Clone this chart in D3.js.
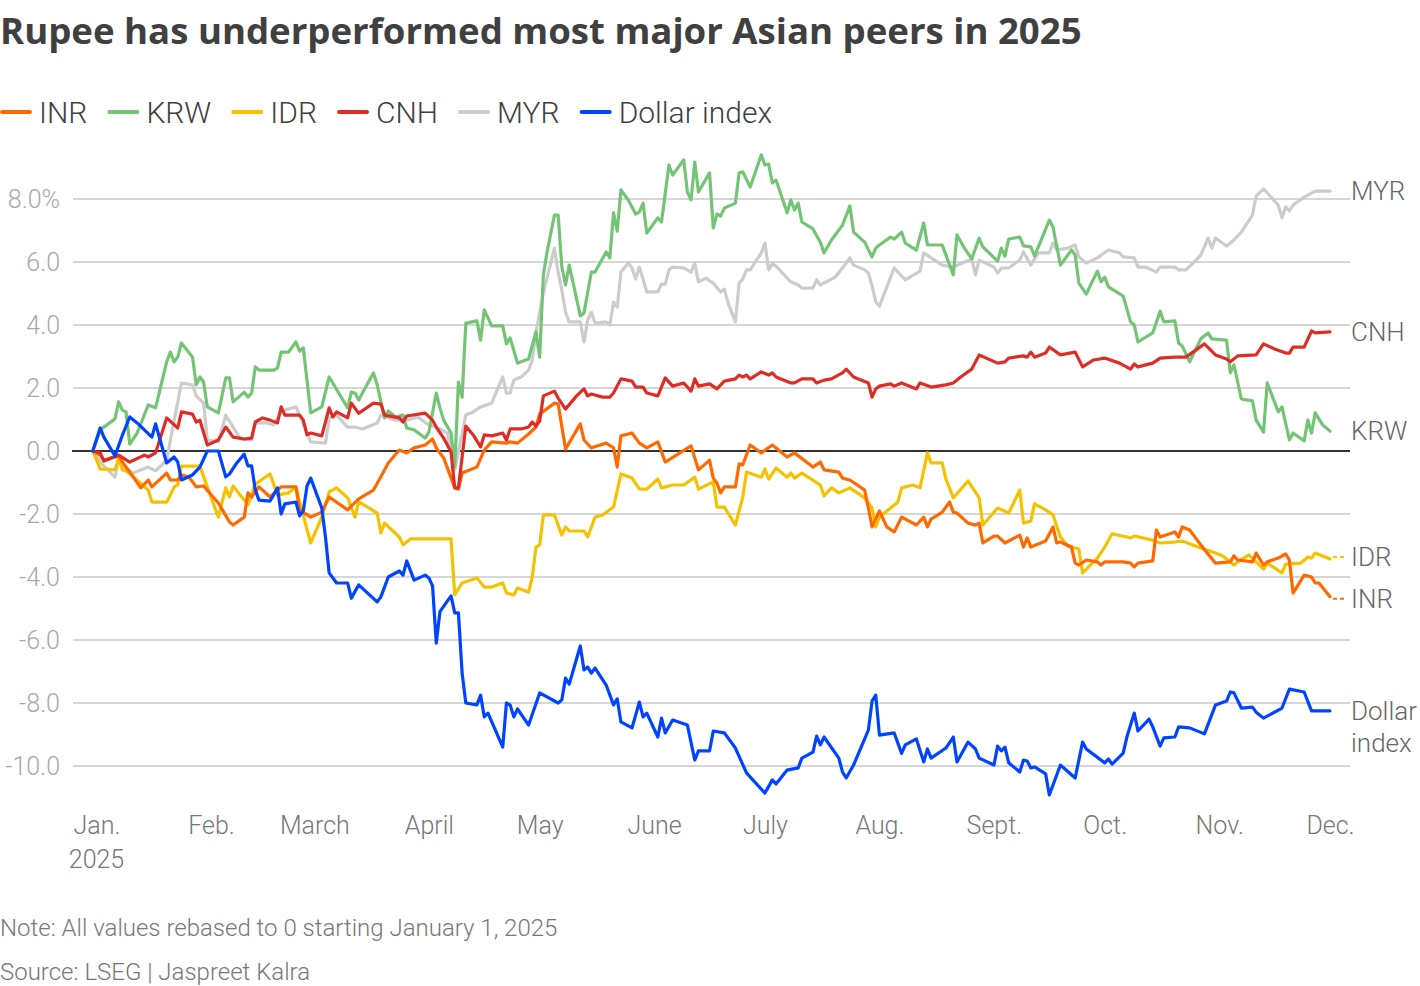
<!DOCTYPE html>
<html>
<head>
<meta charset="utf-8">
<script src="https://cdn.jsdelivr.net/npm/d3@7"></script>
<style>
  body { margin: 0; background: #fff; }
  svg text { font-family: Roboto, "Noto Sans", sans-serif; }
</style>
</head>
<body>
<div id="viz"></div>
<script>
// data: % change since Jan 1 2025
var inr = [["2024-12-31",0],["2025-01-02",-0.13],["2025-01-03",-0.29],["2025-01-07",-0.16],["2025-01-08",-0.35],["2025-01-10",-0.67],["2025-01-13",-1.17],["2025-01-15",-0.92],["2025-01-16",-1.14],["2025-01-20",-0.7],["2025-01-21",-0.92],["2025-01-23",-0.92],["2025-01-24",-0.76],["2025-01-26",-0.82],["2025-01-28",-1.14],["2025-01-30",-1.11],["2025-02-03",-1.65],["2025-02-06",-2.25],["2025-02-07",-2.35],["2025-02-10",-2.1],["2025-02-11",-1.33],["2025-02-12",-1.46],["2025-02-14",-1.14],["2025-02-17",-1.46],["2025-02-20",-1.14],["2025-02-24",-1.14],["2025-02-25",-1.87],["2025-02-28",-2.1],["2025-03-03",-1.94],["2025-03-05",-1.46],["2025-03-10",-1.87],["2025-03-13",-1.52],["2025-03-17",-1.24],["2025-03-19",-0.82],["2025-03-21",-0.38],["2025-03-24",0.03],["2025-03-26",-0.06],["2025-03-28",0.1],["2025-03-31",0.19],["2025-04-02",0.38],["2025-04-03",0.1],["2025-04-05",-0.22],["2025-04-08",-1.17],["2025-04-09",-1.21],["2025-04-10",-0.7],["2025-04-14",-0.51],["2025-04-16",0.03],["2025-04-18",0.29],["2025-04-22",0.25],["2025-04-23",0.29],["2025-04-25",0.25],["2025-04-28",0.54],["2025-04-30",0.76],["2025-05-01",1.17],["2025-05-05",1.52],["2025-05-06",1.49],["2025-05-08",0.06],["2025-05-12",0.86],["2025-05-13",0.35],["2025-05-15",0.1],["2025-05-19",0.25],["2025-05-21",0.1],["2025-05-22",-0.51],["2025-05-23",0.48],["2025-05-26",0.57],["2025-05-28",0.25],["2025-05-30",0.1],["2025-06-02",0.29],["2025-06-04",-0.35],["2025-06-11",0.16],["2025-06-13",-0.6],["2025-06-16",-0.29],["2025-06-17",-0.86],["2025-06-18",-1.02],["2025-06-19",-1.33],["2025-06-20",-1.14],["2025-06-23",-1.14],["2025-06-24",-0.41],["2025-06-25",-0.44],["2025-06-27",0.19],["2025-06-30",-0.06],["2025-07-03",0.19],["2025-07-07",-0.19],["2025-07-09",-0.06],["2025-07-14",-0.51],["2025-07-16",-0.35],["2025-07-17",-0.6],["2025-07-21",-0.67],["2025-07-22",-0.86],["2025-07-24",-0.92],["2025-07-28",-1.24],["2025-07-29",-1.81],["2025-07-30",-2.41],["2025-08-01",-1.9],["2025-08-03",-2.41],["2025-08-05",-2.57],["2025-08-07",-2.1],["2025-08-11",-2.35],["2025-08-13",-2.1],["2025-08-14",-2.41],["2025-08-15",-2.16],["2025-08-18",-1.94],["2025-08-20",-1.62],["2025-08-21",-1.94],["2025-08-22",-1.97],["2025-08-25",-2.29],["2025-08-27",-2.35],["2025-08-28",-2.29],["2025-08-29",-2.92],["2025-09-01",-2.7],["2025-09-02",-2.7],["2025-09-04",-2.92],["2025-09-08",-2.67],["2025-09-09",-3.05],["2025-09-10",-2.76],["2025-09-11",-3.05],["2025-09-15",-2.86],["2025-09-17",-2.41],["2025-09-18",-2.92],["2025-09-19",-2.89],["2025-09-22",-3.05],["2025-09-23",-3.56],["2025-09-24",-3.62],["2025-09-26",-3.46],["2025-09-29",-3.52],["2025-09-30",-3.62],["2025-10-01",-3.52],["2025-10-06",-3.52],["2025-10-08",-3.56],["2025-10-09",-3.68],["2025-10-10",-3.56],["2025-10-14",-3.49],["2025-10-15",-2.51],["2025-10-16",-2.73],["2025-10-20",-2.57],["2025-10-21",-2.73],["2025-10-22",-2.41],["2025-10-24",-2.51],["2025-10-27",-2.98],["2025-10-31",-3.56],["2025-11-04",-3.52],["2025-11-05",-3.33],["2025-11-06",-3.46],["2025-11-10",-3.52],["2025-11-11",-3.24],["2025-11-13",-3.62],["2025-11-14",-3.52],["2025-11-17",-3.4],["2025-11-19",-3.27],["2025-11-20",-3.46],["2025-11-21",-4.51],["2025-11-24",-3.94],["2025-11-26",-4.0],["2025-11-27",-4.19],["2025-11-28",-4.19],["2025-12-01",-4.63]];

var krw = [["2024-12-31",0],["2025-01-02",0.67],["2025-01-06",1.02],["2025-01-07",1.56],["2025-01-08",1.3],["2025-01-09",1.24],["2025-01-10",0.22],["2025-01-12",0.57],["2025-01-15",1.46],["2025-01-17",1.37],["2025-01-20",2.83],["2025-01-21",3.14],["2025-01-22",2.83],["2025-01-23",2.98],["2025-01-24",3.43],["2025-01-27",2.98],["2025-01-28",2.1],["2025-01-29",2.35],["2025-01-30",2.19],["2025-01-31",1.4],["2025-02-03",1.21],["2025-02-05",2.32],["2025-02-06",2.32],["2025-02-07",1.56],["2025-02-10",1.87],["2025-02-11",1.71],["2025-02-12",1.84],["2025-02-13",2.67],["2025-02-14",2.57],["2025-02-18",2.57],["2025-02-19",2.63],["2025-02-20",3.14],["2025-02-22",3.14],["2025-02-24",3.46],["2025-02-25",3.17],["2025-02-26",3.27],["2025-02-28",1.21],["2025-03-03",1.4],["2025-03-05",2.35],["2025-03-10",1.37],["2025-03-11",1.87],["2025-03-12",1.84],["2025-03-13",1.62],["2025-03-14",1.84],["2025-03-17",2.48],["2025-03-18",2.1],["2025-03-20",1.05],["2025-03-21",1.27],["2025-03-23",1.08],["2025-03-25",1.14],["2025-03-26",0.73],["2025-03-28",0.67],["2025-03-31",0.41],["2025-04-01",0.6],["2025-04-03",1.84],["2025-04-04",1.37],["2025-04-05",0.98],["2025-04-07",0.57],["2025-04-08",-0.5],["2025-04-09",2.19],["2025-04-10",1.71],["2025-04-11",4.06],["2025-04-14",4.13],["2025-04-15",3.52],["2025-04-16",4.48],["2025-04-18",3.97],["2025-04-21",3.97],["2025-04-22",3.4],["2025-04-23",3.59],["2025-04-25",2.79],["2025-04-28",2.92],["2025-04-30",3.78],["2025-05-01",2.98],["2025-05-02",5.59],["2025-05-03",6.32],["2025-05-05",7.49],["2025-05-06",7.49],["2025-05-07",5.84],["2025-05-08",5.27],["2025-05-09",5.9],["2025-05-12",4.29],["2025-05-13",4.38],["2025-05-15",5.68],["2025-05-16",5.68],["2025-05-19",6.32],["2025-05-20",6.13],["2025-05-21",7.56],["2025-05-22",6.98],["2025-05-23",8.29],["2025-05-25",7.97],["2025-05-27",7.52],["2025-05-28",7.59],["2025-05-29",7.87],["2025-05-30",6.92],["2025-06-02",7.4],["2025-06-03",7.27],["2025-06-05",9.08],["2025-06-06",8.76],["2025-06-09",9.24],["2025-06-10",8.22],["2025-06-11",7.97],["2025-06-12",9.17],["2025-06-13",8.22],["2025-06-16",8.83],["2025-06-17",7.08],["2025-06-18",7.52],["2025-06-19",7.46],["2025-06-20",7.71],["2025-06-23",7.87],["2025-06-24",8.83],["2025-06-25",8.86],["2025-06-27",8.38],["2025-06-30",9.4],["2025-07-01",9.08],["2025-07-02",9.11],["2025-07-03",8.51],["2025-07-04",8.6],["2025-07-07",7.56],["2025-07-08",7.97],["2025-07-09",7.65],["2025-07-10",7.87],["2025-07-11",7.27],["2025-07-14",7.05],["2025-07-16",6.63],["2025-07-17",6.29],["2025-07-19",6.7],["2025-07-22",7.17],["2025-07-24",7.78],["2025-07-25",6.95],["2025-07-28",6.63],["2025-07-30",6.16],["2025-07-31",6.44],["2025-08-01",6.54],["2025-08-04",6.79],["2025-08-05",6.73],["2025-08-07",6.95],["2025-08-08",6.6],["2025-08-11",6.38],["2025-08-13",7.24],["2025-08-14",6.54],["2025-08-18",6.54],["2025-08-21",5.59],["2025-08-22",6.86],["2025-08-24",6.44],["2025-08-26",6.1],["2025-08-28",6.76],["2025-08-29",6.48],["2025-09-02",6.03],["2025-09-03",6.44],["2025-09-04",6.19],["2025-09-05",6.73],["2025-09-08",6.79],["2025-09-09",6.51],["2025-09-11",6.48],["2025-09-12",6.19],["2025-09-16",7.33],["2025-09-17",7.11],["2025-09-19",5.9],["2025-09-22",6.38],["2025-09-23",6.22],["2025-09-24",5.33],["2025-09-26",4.98],["2025-09-29",5.71],["2025-09-30",5.37],["2025-10-01",5.52],["2025-10-02",5.21],["2025-10-06",4.92],["2025-10-08",4.1],["2025-10-09",4.0],["2025-10-10",3.46],["2025-10-14",3.75],["2025-10-16",4.44],["2025-10-17",4.1],["2025-10-20",4.13],["2025-10-21",3.43],["2025-10-22",3.33],["2025-10-24",2.83],["2025-10-27",3.56],["2025-10-29",3.75],["2025-10-30",3.56],["2025-11-03",3.52],["2025-11-04",2.48],["2025-11-05",2.73],["2025-11-07",1.65],["2025-11-10",1.59],["2025-11-11",0.98],["2025-11-13",0.6],["2025-11-14",2.16],["2025-11-17",1.24],["2025-11-18",1.4],["2025-11-20",0.35],["2025-11-21",0.57],["2025-11-24",0.32],["2025-11-25",0.98],["2025-11-26",0.57],["2025-11-27",1.21],["2025-11-29",0.83],["2025-12-01",0.63]];

var idr = [["2024-12-31",0],["2025-01-02",-0.57],["2025-01-06",-0.6],["2025-01-07",-0.22],["2025-01-08",-0.6],["2025-01-09",-0.63],["2025-01-11",-0.82],["2025-01-15",-1.24],["2025-01-16",-1.62],["2025-01-20",-1.62],["2025-01-21",-1.4],["2025-01-22",-1.14],["2025-01-23",-1.08],["2025-01-24",-0.48],["2025-01-29",-0.48],["2025-01-31",-1.14],["2025-02-03",-2.1],["2025-02-05",-1.17],["2025-02-06",-1.46],["2025-02-07",-1.11],["2025-02-11",-1.71],["2025-02-13",-1.05],["2025-02-17",-0.73],["2025-02-19",-1.4],["2025-02-22",-1.33],["2025-02-24",-1.14],["2025-02-25",-1.62],["2025-02-28",-2.92],["2025-03-03",-2.1],["2025-03-05",-1.3],["2025-03-07",-1.17],["2025-03-10",-1.49],["2025-03-12",-2.1],["2025-03-13",-1.62],["2025-03-14",-1.68],["2025-03-18",-1.97],["2025-03-19",-2.6],["2025-03-20",-2.29],["2025-03-24",-2.73],["2025-03-25",-2.98],["2025-03-27",-2.79],["2025-04-07",-2.79],["2025-04-08",-4.57],["2025-04-10",-4.19],["2025-04-14",-4.03],["2025-04-16",-4.32],["2025-04-18",-4.32],["2025-04-21",-4.19],["2025-04-22",-4.51],["2025-04-24",-4.57],["2025-04-25",-4.35],["2025-04-28",-4.48],["2025-04-29",-4.0],["2025-04-30",-3.05],["2025-05-01",-2.98],["2025-05-02",-2.03],["2025-05-05",-2.03],["2025-05-07",-2.67],["2025-05-08",-2.41],["2025-05-09",-2.54],["2025-05-13",-2.54],["2025-05-14",-2.73],["2025-05-16",-2.1],["2025-05-18",-2.03],["2025-05-21",-1.78],["2025-05-23",-0.73],["2025-05-26",-0.86],["2025-05-28",-1.21],["2025-05-30",-1.21],["2025-06-02",-0.89],["2025-06-03",-1.17],["2025-06-06",-1.08],["2025-06-09",-1.08],["2025-06-12",-0.83],["2025-06-13",-1.21],["2025-06-17",-0.98],["2025-06-18",-1.78],["2025-06-20",-1.78],["2025-06-23",-2.35],["2025-06-25",-1.46],["2025-06-26",-0.67],["2025-06-30",-0.83],["2025-07-01",-0.57],["2025-07-02",-0.89],["2025-07-04",-0.54],["2025-07-07",-0.83],["2025-07-08",-0.7],["2025-07-09",-0.86],["2025-07-11",-0.7],["2025-07-16",-1.08],["2025-07-17",-1.43],["2025-07-19",-1.17],["2025-07-21",-1.33],["2025-07-24",-1.17],["2025-07-28",-1.49],["2025-07-30",-1.81],["2025-07-31",-2.41],["2025-08-01",-2.1],["2025-08-04",-1.81],["2025-08-06",-1.62],["2025-08-07",-1.17],["2025-08-10",-1.08],["2025-08-12",-1.17],["2025-08-14",-0.06],["2025-08-15",-0.38],["2025-08-18",-0.38],["2025-08-19",-0.89],["2025-08-21",-1.49],["2025-08-25",-0.95],["2025-08-28",-1.49],["2025-08-29",-2.35],["2025-09-02",-1.81],["2025-09-05",-1.97],["2025-09-08",-1.24],["2025-09-09",-2.29],["2025-09-11",-2.22],["2025-09-12",-1.68],["2025-09-15",-1.87],["2025-09-17",-2.03],["2025-09-19",-2.73],["2025-09-21",-3.02],["2025-09-24",-3.11],["2025-09-25",-3.87],["2025-09-29",-3.4],["2025-10-01",-3.05],["2025-10-03",-2.63],["2025-10-07",-2.73],["2025-10-08",-2.76],["2025-10-09",-2.7],["2025-10-14",-2.83],["2025-10-16",-2.92],["2025-10-20",-2.89],["2025-10-22",-2.86],["2025-10-27",-3.08],["2025-10-31",-3.24],["2025-11-02",-3.33],["2025-11-05",-3.62],["2025-11-06",-3.52],["2025-11-09",-3.3],["2025-11-11",-3.52],["2025-11-13",-3.75],["2025-11-14",-3.56],["2025-11-18",-3.87],["2025-11-19",-3.59],["2025-11-23",-3.56],["2025-11-25",-3.37],["2025-11-26",-3.4],["2025-11-27",-3.24],["2025-12-01",-3.43]];

var cnh = [["2024-12-31",0],["2025-01-02",-0.06],["2025-01-03",-0.32],["2025-01-07",-0.13],["2025-01-10",-0.35],["2025-01-14",-0.13],["2025-01-15",-0.19],["2025-01-17",-0.06],["2025-01-20",1.05],["2025-01-23",0.73],["2025-01-24",1.24],["2025-01-27",1.17],["2025-01-28",0.92],["2025-01-29",0.98],["2025-01-31",0.19],["2025-02-03",0.35],["2025-02-05",0.76],["2025-02-07",0.44],["2025-02-10",0.38],["2025-02-12",0.41],["2025-02-13",0.92],["2025-02-15",1.05],["2025-02-17",0.98],["2025-02-19",0.89],["2025-02-20",1.4],["2025-02-21",1.14],["2025-02-25",1.14],["2025-02-26",0.98],["2025-02-27",0.51],["2025-02-28",0.57],["2025-03-03",0.48],["2025-03-05",1.37],["2025-03-06",1.08],["2025-03-07",1.24],["2025-03-10",1.05],["2025-03-11",1.52],["2025-03-13",1.2],["2025-03-17",1.52],["2025-03-19",1.49],["2025-03-20",1.14],["2025-03-24",1.05],["2025-03-25",0.92],["2025-03-26",1.11],["2025-03-31",1.2],["2025-04-02",0.98],["2025-04-03",0.76],["2025-04-05",0.41],["2025-04-07",-0.03],["2025-04-08",-1.17],["2025-04-09",-1.17],["2025-04-11",0.79],["2025-04-13",0.51],["2025-04-15",0.13],["2025-04-16",0.51],["2025-04-18",0.48],["2025-04-21",0.57],["2025-04-22",0.35],["2025-04-23",0.7],["2025-04-26",0.7],["2025-04-28",0.76],["2025-04-29",0.92],["2025-04-30",0.79],["2025-05-01",0.95],["2025-05-02",1.75],["2025-05-05",1.9],["2025-05-06",1.68],["2025-05-08",1.33],["2025-05-11",1.75],["2025-05-13",1.97],["2025-05-14",1.75],["2025-05-15",1.81],["2025-05-18",1.71],["2025-05-20",1.71],["2025-05-21",1.84],["2025-05-23",2.29],["2025-05-26",2.22],["2025-05-27",2.03],["2025-05-29",2.03],["2025-05-30",1.84],["2025-06-02",1.75],["2025-06-04",2.32],["2025-06-06",2.06],["2025-06-09",2.16],["2025-06-11",1.9],["2025-06-12",2.29],["2025-06-13",2.06],["2025-06-16",2.13],["2025-06-18",1.97],["2025-06-20",2.22],["2025-06-23",2.29],["2025-06-24",2.41],["2025-06-25",2.35],["2025-06-26",2.41],["2025-06-27",2.29],["2025-06-30",2.51],["2025-07-02",2.41],["2025-07-03",2.48],["2025-07-04",2.35],["2025-07-08",2.16],["2025-07-09",2.16],["2025-07-11",2.29],["2025-07-14",2.29],["2025-07-15",2.16],["2025-07-17",2.25],["2025-07-19",2.29],["2025-07-22",2.48],["2025-07-23",2.6],["2025-07-25",2.35],["2025-07-29",2.16],["2025-07-30",1.71],["2025-07-31",1.97],["2025-08-01",2.06],["2025-08-04",2.13],["2025-08-05",2.06],["2025-08-07",2.16],["2025-08-11",1.97],["2025-08-12",2.16],["2025-08-15",2.03],["2025-08-19",2.1],["2025-08-21",2.16],["2025-08-23",2.35],["2025-08-26",2.6],["2025-08-28",3.05],["2025-09-02",2.79],["2025-09-04",2.83],["2025-09-05",2.95],["2025-09-09",3.02],["2025-09-10",2.98],["2025-09-11",3.14],["2025-09-12",2.98],["2025-09-15",3.11],["2025-09-16",3.3],["2025-09-19",3.05],["2025-09-23",3.14],["2025-09-25",2.67],["2025-09-28",2.89],["2025-10-01",2.95],["2025-10-05",2.79],["2025-10-08",2.6],["2025-10-09",2.76],["2025-10-10",2.67],["2025-10-14",2.79],["2025-10-16",2.95],["2025-10-20",2.98],["2025-10-23",2.98],["2025-10-28",3.4],["2025-10-31",3.05],["2025-11-03",2.92],["2025-11-04",2.83],["2025-11-06",3.02],["2025-11-11",3.05],["2025-11-13",3.4],["2025-11-16",3.24],["2025-11-19",3.11],["2025-11-20",3.11],["2025-11-21",3.3],["2025-11-24",3.3],["2025-11-26",3.81],["2025-11-27",3.75],["2025-12-01",3.78]];

var myr = [["2024-12-31",0],["2025-01-02",-0.35],["2025-01-04",-0.6],["2025-01-06",-0.83],["2025-01-07",-0.29],["2025-01-09",-0.54],["2025-01-11",-0.7],["2025-01-13",-0.6],["2025-01-15",-0.51],["2025-01-17",-0.63],["2025-01-20",-0.29],["2025-01-21",0.35],["2025-01-24",2.16],["2025-01-27",2.1],["2025-01-28",1.75],["2025-01-30",1.52],["2025-01-31",0.35],["2025-02-03",0.29],["2025-02-05",1.14],["2025-02-07",0.76],["2025-02-09",0.38],["2025-02-12",0.35],["2025-02-13",0.89],["2025-02-16",0.89],["2025-02-18",0.83],["2025-02-19",1.05],["2025-02-20",1.27],["2025-02-24",1.4],["2025-02-25",1.14],["2025-02-28",0.29],["2025-03-04",0.25],["2025-03-05",1.05],["2025-03-07",1.14],["2025-03-10",0.76],["2025-03-12",0.76],["2025-03-14",0.7],["2025-03-18",0.89],["2025-03-19",1.14],["2025-03-23",0.98],["2025-03-26",0.98],["2025-03-29",1.08],["2025-04-01",0.83],["2025-04-04",0.7],["2025-04-06",0.57],["2025-04-08",-0.6],["2025-04-11",1.14],["2025-04-13",1.24],["2025-04-15",1.4],["2025-04-18",1.52],["2025-04-21",2.35],["2025-04-22",1.84],["2025-04-23",1.84],["2025-04-24",2.25],["2025-04-26",2.35],["2025-04-28",2.57],["2025-04-29",2.89],["2025-04-30",3.78],["2025-05-02",5.02],["2025-05-05",6.44],["2025-05-06",5.68],["2025-05-07",5.11],["2025-05-08",4.41],["2025-05-09",4.1],["2025-05-12",4.1],["2025-05-13",3.46],["2025-05-14",4.16],["2025-05-15",4.41],["2025-05-16",4.06],["2025-05-19",4.1],["2025-05-20",4.0],["2025-05-21",4.73],["2025-05-22",4.57],["2025-05-23",5.68],["2025-05-25",5.97],["2025-05-26",5.81],["2025-05-27",5.46],["2025-05-28",5.84],["2025-05-30",5.05],["2025-06-02",5.05],["2025-06-03",5.3],["2025-06-04",5.3],["2025-06-05",5.75],["2025-06-06",5.84],["2025-06-09",5.81],["2025-06-10",5.75],["2025-06-11",5.68],["2025-06-12",5.97],["2025-06-13",5.37],["2025-06-15",5.49],["2025-06-17",5.33],["2025-06-19",5.05],["2025-06-20",5.14],["2025-06-21",4.7],["2025-06-23",4.1],["2025-06-24",5.33],["2025-06-25",5.46],["2025-06-26",5.75],["2025-06-27",5.75],["2025-06-30",6.29],["2025-07-01",6.6],["2025-07-02",5.75],["2025-07-03",5.94],["2025-07-04",5.87],["2025-07-08",5.37],["2025-07-10",5.27],["2025-07-11",5.17],["2025-07-14",5.17],["2025-07-15",5.43],["2025-07-16",5.27],["2025-07-20",5.52],["2025-07-22",5.81],["2025-07-24",6.13],["2025-07-25",5.9],["2025-07-28",5.75],["2025-07-29",5.65],["2025-07-30",5.24],["2025-07-31",4.73],["2025-08-01",4.6],["2025-08-03",5.21],["2025-08-05",5.81],["2025-08-08",5.43],["2025-08-12",5.71],["2025-08-13",6.29],["2025-08-15",6.13],["2025-08-18",5.9],["2025-08-21",5.84],["2025-08-26",6.1],["2025-08-27",5.59],["2025-08-28",6.06],["2025-09-01",5.84],["2025-09-02",5.65],["2025-09-03",5.81],["2025-09-05",5.81],["2025-09-08",6.06],["2025-09-09",6.32],["2025-09-11",5.9],["2025-09-13",6.29],["2025-09-16",6.29],["2025-09-17",6.6],["2025-09-18",6.38],["2025-09-21",6.44],["2025-09-23",6.54],["2025-09-24",6.16],["2025-09-26",5.97],["2025-09-29",6.13],["2025-10-02",6.38],["2025-10-05",6.29],["2025-10-06",6.16],["2025-10-09",6.13],["2025-10-10",5.84],["2025-10-12",5.84],["2025-10-15",5.68],["2025-10-16",5.84],["2025-10-20",5.84],["2025-10-21",5.75],["2025-10-23",5.75],["2025-10-25",5.97],["2025-10-27",6.22],["2025-10-29",6.76],["2025-10-30",6.44],["2025-10-31",6.76],["2025-11-03",6.51],["2025-11-05",6.7],["2025-11-07",6.95],["2025-11-10",7.49],["2025-11-11",8.1],["2025-11-13",8.32],["2025-11-14",8.19],["2025-11-17",7.81],["2025-11-18",7.4],["2025-11-19",7.75],["2025-11-20",7.62],["2025-11-21",7.81],["2025-11-24",8.06],["2025-11-27",8.25],["2025-12-01",8.25]];

var dollarIndex = [["2024-12-31",0],["2025-01-02",0.73],["2025-01-03",0.44],["2025-01-06",-0.16],["2025-01-08",0.5],["2025-01-10",1.08],["2025-01-12",0.89],["2025-01-16",0.44],["2025-01-17",0.86],["2025-01-20",-0.38],["2025-01-22",-0.19],["2025-01-23",-0.35],["2025-01-24",-0.92],["2025-01-27",-0.76],["2025-01-29",-0.51],["2025-01-31",0],["2025-02-03",0],["2025-02-05",-0.82],["2025-02-06",-0.73],["2025-02-08",-0.38],["2025-02-10",-0.1],["2025-02-11",-0.47],["2025-02-12",-0.47],["2025-02-13",-1.24],["2025-02-14",-1.56],["2025-02-17",-1.59],["2025-02-19",-1.17],["2025-02-20",-2.0],["2025-02-21",-1.68],["2025-02-24",-1.62],["2025-02-25",-2.06],["2025-02-26",-1.9],["2025-02-27",-1.11],["2025-02-28",-0.86],["2025-03-03",-1.81],["2025-03-04",-2.73],["2025-03-05",-3.87],["2025-03-07",-4.19],["2025-03-10",-4.19],["2025-03-11",-4.67],["2025-03-13",-4.25],["2025-03-18",-4.79],["2025-03-19",-4.63],["2025-03-21",-4.0],["2025-03-24",-3.81],["2025-03-25",-3.94],["2025-03-26",-3.49],["2025-03-28",-4.1],["2025-03-31",-3.94],["2025-04-01",-4.03],["2025-04-02",-4.29],["2025-04-03",-6.1],["2025-04-04",-5.1],["2025-04-07",-4.6],["2025-04-08",-5.14],["2025-04-09",-5.14],["2025-04-10",-7.05],["2025-04-11",-8.0],["2025-04-14",-8.06],["2025-04-15",-7.75],["2025-04-16",-8.44],["2025-04-17",-8.32],["2025-04-21",-9.4],["2025-04-22",-8.0],["2025-04-23",-8.06],["2025-04-24",-8.44],["2025-04-25",-8.19],["2025-04-28",-8.7],["2025-05-01",-7.68],["2025-05-06",-8.0],["2025-05-07",-7.9],["2025-05-08",-7.21],["2025-05-09",-7.4],["2025-05-12",-6.19],["2025-05-13",-6.95],["2025-05-14",-6.86],["2025-05-15",-7.05],["2025-05-16",-6.89],["2025-05-19",-7.43],["2025-05-21",-8.06],["2025-05-22",-7.87],["2025-05-23",-8.6],["2025-05-26",-8.79],["2025-05-28",-7.97],["2025-05-29",-8.44],["2025-05-30",-8.32],["2025-06-02",-9.08],["2025-06-03",-8.48],["2025-06-04",-8.95],["2025-06-06",-8.54],["2025-06-10",-8.7],["2025-06-12",-9.81],["2025-06-13",-9.52],["2025-06-16",-9.52],["2025-06-17",-8.89],["2025-06-20",-8.95],["2025-06-23",-9.43],["2025-06-26",-10.22],["2025-07-01",-10.86],["2025-07-03",-10.44],["2025-07-04",-10.57],["2025-07-07",-10.13],["2025-07-10",-10.06],["2025-07-11",-9.75],["2025-07-14",-9.56],["2025-07-15",-9.05],["2025-07-16",-9.33],["2025-07-17",-9.08],["2025-07-21",-9.75],["2025-07-22",-10.19],["2025-07-23",-10.38],["2025-07-25",-9.97],["2025-07-29",-8.86],["2025-07-30",-7.94],["2025-07-31",-7.75],["2025-08-01",-9.02],["2025-08-05",-8.95],["2025-08-07",-9.6],["2025-08-08",-9.33],["2025-08-11",-9.14],["2025-08-13",-9.87],["2025-08-14",-9.46],["2025-08-15",-9.75],["2025-08-19",-9.43],["2025-08-21",-9.08],["2025-08-22",-9.87],["2025-08-25",-9.24],["2025-08-27",-9.46],["2025-08-28",-9.75],["2025-09-01",-9.97],["2025-09-02",-9.37],["2025-09-03",-9.52],["2025-09-04",-9.4],["2025-09-05",-9.9],["2025-09-08",-10.19],["2025-09-09",-9.81],["2025-09-10",-9.84],["2025-09-11",-10.06],["2025-09-12",-10.03],["2025-09-15",-10.25],["2025-09-16",-10.92],["2025-09-19",-9.97],["2025-09-23",-10.38],["2025-09-25",-9.24],["2025-09-26",-9.46],["2025-10-01",-9.9],["2025-10-02",-9.78],["2025-10-03",-9.94],["2025-10-06",-9.59],["2025-10-07",-9.08],["2025-10-09",-8.32],["2025-10-10",-8.89],["2025-10-13",-8.51],["2025-10-14",-8.76],["2025-10-16",-9.37],["2025-10-17",-9.11],["2025-10-20",-9.08],["2025-10-21",-8.76],["2025-10-24",-8.79],["2025-10-28",-8.98],["2025-10-31",-8.06],["2025-11-03",-7.94],["2025-11-04",-7.65],["2025-11-05",-7.68],["2025-11-07",-8.16],["2025-11-10",-8.13],["2025-11-11",-8.29],["2025-11-13",-8.48],["2025-11-18",-8.16],["2025-11-20",-7.56],["2025-11-24",-7.65],["2025-11-26",-8.25],["2025-12-01",-8.25]];

var yTicks = [-10, -8, -6, -4, -2, 0, 2, 4, 6, 8];
var monthLabels = ["Jan.", "Feb.", "March", "April", "May", "June", "July", "Aug.", "Sept.", "Oct.", "Nov.", "Dec."];

// series settings (legend order)
var series = [
  { name: "INR", data: inr, color: "#ff6a00", labelDy: 2, leader: true },
  { name: "KRW", data: krw, color: "#74c476", labelDy: 0 },
  { name: "IDR", data: idr, color: "#f5c200", labelDy: -2, leader: true },
  { name: "CNH", data: cnh, color: "#de2d26", labelDy: 0 },
  { name: "MYR", data: myr, color: "#cccccc", labelDy: 0 },
  { name: "Dollar index", data: dollarIndex, color: "#0044ff", labelDy: 0 }
];
var drawOrder = ["MYR", "KRW", "IDR", "INR", "CNH", "Dollar index"];

var width = 1420;
var height = 986;
var parse = d3.timeParse("%Y-%m-%d");

series.forEach(function(s) {
  s.points = s.data.map(function(d) { return { date: parse(d[0]), value: d[1] }; });
});

var svg = d3.select('#viz').append('svg')
  .attr('width', width)
  .attr('height', height);

var x = d3.scaleTime()
  .domain([new Date(2025, 0, 1), new Date(2025, 11, 1)])
  .range([96.5, 1330]);

var y = d3.scaleLinear()
  .domain([-10, 8])
  .range([766, 199]);

// title
svg.append('text')
  .attr('x', 0)
  .attr('y', 44)
  .style('font-family', '"Open Sans", Roboto, sans-serif')
  .style('font-size', '36.6px')
  .style('font-weight', 700)
  .style('fill', '#404040')
  .text('Rupee has underperformed most major Asian peers in 2025');

// legend
var lx = 0;
series.forEach(function(s) {
  svg.append('line')
    .attr('x1', lx + 2).attr('x2', lx + 30)
    .attr('y1', 112).attr('y2', 112)
    .attr('stroke', s.color)
    .attr('stroke-width', 4)
    .attr('stroke-linecap', 'round');
  var t = svg.append('text')
    .attr('x', lx + 39)
    .attr('y', 123)
    .style('font-size', '30px')
    .style('font-weight', 300)
    .style('fill', '#404040')
    .text(s.name);
  lx = lx + 39 + t.node().getComputedTextLength() + 20;
});

// y grid + labels
var fmt = function(v) {
  var s = Math.abs(v).toFixed(1);
  if (v < 0) s = '-' + s;
  if (v === 8) s = s + '%';
  return s;
};

svg.append('g').selectAll('line')
  .data(yTicks.filter(function(d) { return d !== 0; }))
  .enter().append('line')
  .attr('x1', 73).attr('x2', 1350)
  .attr('y1', function(d) { return y(d); })
  .attr('y2', function(d) { return y(d); })
  .attr('stroke', '#c8c8c8')
  .attr('stroke-width', 1.5);

svg.append('g').selectAll('text')
  .data(yTicks)
  .enter().append('text')
  .attr('x', 60)
  .attr('y', function(d) { return y(d) + 9; })
  .attr('text-anchor', 'end')
  .style('font-size', '25px')
  .style('font-weight', 300)
  .style('fill', '#a8a8a8')
  .text(fmt);

svg.append('line')
  .attr('x1', 72).attr('x2', 1350)
  .attr('y1', y(0)).attr('y2', y(0))
  .attr('stroke', '#333')
  .attr('stroke-width', 1.8);

// x axis (labels only)
var xAxis = d3.axisBottom(x)
  .ticks(d3.timeMonth.every(1))
  .tickSize(0)
  .tickPadding(0)
  .tickFormat(function(d) { return monthLabels[d.getMonth()]; });

var gx = svg.append('g')
  .attr('transform', 'translate(0,811)')
  .call(xAxis);
gx.select('.domain').remove();
gx.selectAll('text')
  .attr('dy', '0.9em')
  .style('font-family', 'Roboto, "Noto Sans", sans-serif')
  .style('font-size', '25px')
  .style('font-weight', 300)
  .style('fill', '#777');

svg.append('text')
  .attr('x', x(new Date(2025, 0, 1)))
  .attr('y', 868)
  .attr('text-anchor', 'middle')
  .style('font-size', '25px')
  .style('font-weight', 300)
  .style('fill', '#777')
  .text('2025');

// lines
var line = d3.line()
  .x(function(d) { return x(d.date); })
  .y(function(d) { return y(d.value); });

var byName = {};
series.forEach(function(s) { byName[s.name] = s; });

var gLines = svg.append('g');
drawOrder.forEach(function(n) {
  var s = byName[n];
  gLines.append('path')
    .datum(s.points)
    .attr('d', line)
    .attr('fill', 'none')
    .attr('stroke', s.color)
    .attr('stroke-width', 3.2)
    .attr('stroke-linejoin', 'round')
    .attr('stroke-linecap', 'round');
});

// end labels
series.forEach(function(s) {
  var last = s.points[s.points.length - 1];
  var ly = y(last.value) + s.labelDy;
  if (s.leader) {
    svg.append('line')
      .attr('x1', x(last.date) + 3).attr('x2', x(last.date) + 14)
      .attr('y1', ly).attr('y2', ly)
      .attr('stroke', s.color)
      .attr('stroke-width', 2)
      .attr('stroke-dasharray', '4,3');
  }
  var words = s.name.split(' ');
  var t = svg.append('text')
    .attr('x', 1351)
    .attr('y', ly + 9)
    .style('font-size', '26px')
    .style('font-weight', 300)
    .style('fill', '#666');
  words.forEach(function(w, i) {
    t.append('tspan')
      .attr('x', 1351)
      .attr('dy', i === 0 ? 0 : 32)
      .text(w);
  });
});

// notes
svg.append('text')
  .attr('x', 0).attr('y', 936)
  .style('font-size', '24px')
  .style('font-weight', 300)
  .style('fill', '#777')
  .text('Note: All values rebased to 0 starting January 1, 2025');

svg.append('text')
  .attr('x', 0).attr('y', 980)
  .style('font-size', '24px')
  .style('font-weight', 300)
  .style('fill', '#777')
  .text('Source: LSEG | Jaspreet Kalra');
</script>
</body>
</html>
